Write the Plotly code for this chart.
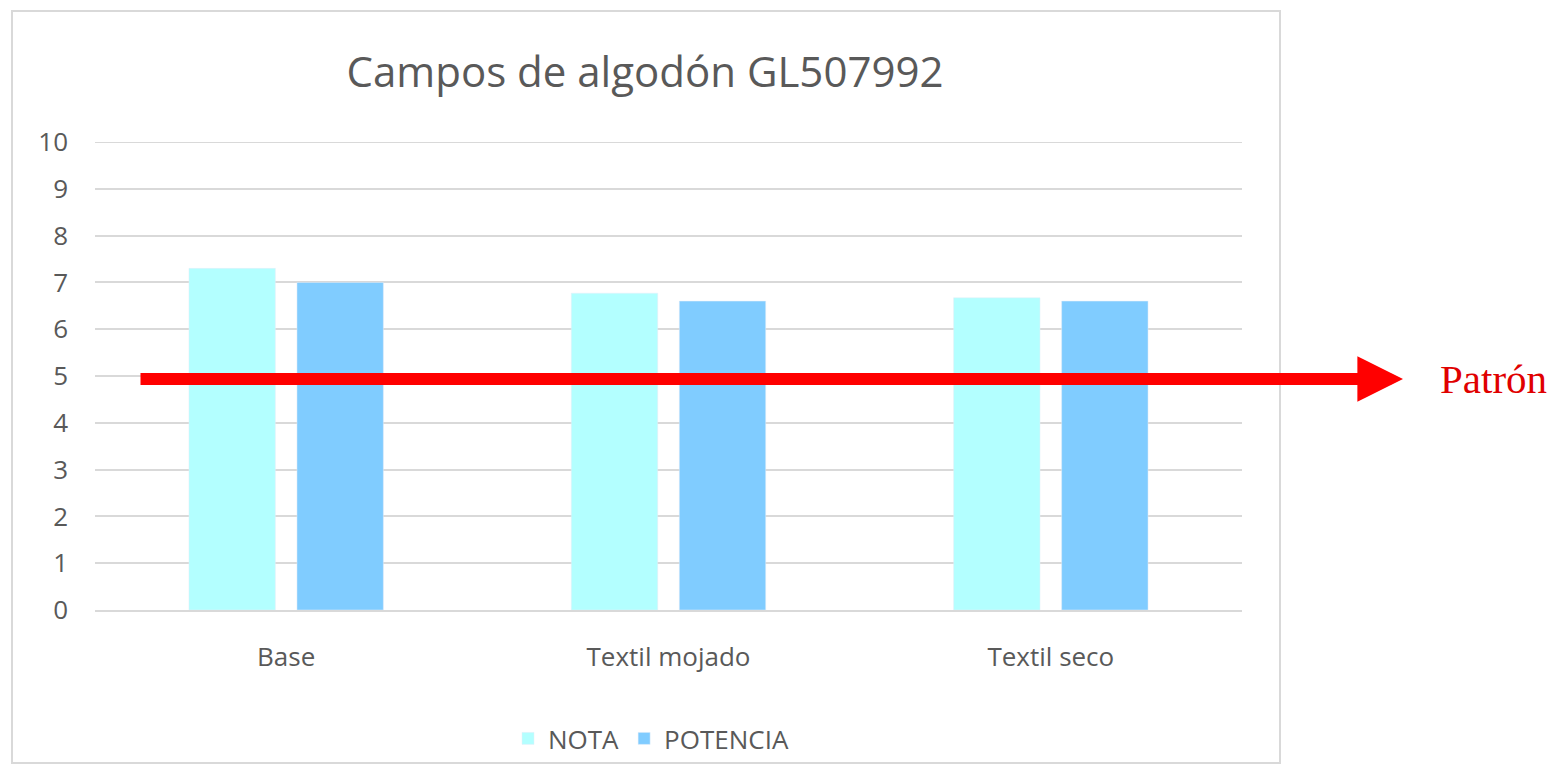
import plotly.graph_objects as go

categories = ["Base", "Textil mojado", "Textil seco"]
nota = [7.3, 6.77, 6.67]
potencia = [7.0, 6.6, 6.6]
patron = 5
y_ticks = list(range(0, 11))

# plot area in figure pixels (the page body adds an 8px offset)
L, T, PW, PH = 87, 134, 1147, 468
W, H = 1547, 756


def px_x(x):
    return (x - L) / PW


def px_y(y):
    return (T + PH - y) / PH


fig = go.Figure()
fig.add_trace(go.Bar(x=categories, y=nota, name="NOTA", marker=dict(color="#B3FFFF")))
fig.add_trace(go.Bar(x=categories, y=potencia, name="POTENCIA", marker=dict(color="#80CCFF")))

fig.update_layout(
    width=W, height=H,
    margin=dict(l=L, r=W - L - PW, t=T, b=H - T - PH, autoexpand=False),
    paper_bgcolor="white", plot_bgcolor="white",
    font=dict(family="Open Sans", color="#595959", size=26),
    title=dict(text="Campos de algodón GL507992", x=px_x(637), xref="paper",
               xanchor="center", y=1 - 64 / H, yanchor="middle",
               font=dict(size=42, color="#595959")),
    bargap=0.435, bargroupgap=0.2,
    showlegend=True,
    legend=dict(orientation="h", x=px_x(643), xanchor="center", y=px_y(H - 2), yanchor="bottom",
                font=dict(size=26, color="#595959"), itemwidth=30,
                bgcolor="rgba(0,0,0,0)"),
)
fig.update_yaxes(range=[0, 10], tickvals=y_ticks, showgrid=True, gridcolor="#D9D9D9",
                 gridwidth=2, zeroline=False, showline=False, ticklabelstandoff=26,
                 automargin=False)
fig.update_xaxes(showline=True, linecolor="#D9D9D9", linewidth=2, ticklabelstandoff=23,
                 automargin=False)

# top gridline (hidden by plotly at the range edge)
fig.add_shape(type="line", xref="x domain", yref="y", x0=0, x1=1, y0=y_ticks[-1], y1=y_ticks[-1],
              line=dict(color="#D9D9D9", width=2), layer="below")

# outer chart border
fig.add_shape(type="rect", xref="paper", yref="paper",
              x0=px_x(4), x1=px_x(1272), y0=px_y(H - 1), y1=px_y(3),
              line=dict(color="#D9D9D9", width=2), layer="below")

# reference line "Patrón"
fig.add_annotation(xref="x domain", yref="y", axref="x domain", ayref="y",
                   x=px_x(1395), y=patron, ax=px_x(131), ay=patron, yshift=-3,
                   text="", showarrow=True, arrowhead=2, arrowsize=0.76,
                   arrowwidth=12, arrowcolor="#FF0000")
fig.add_annotation(xref="paper", yref="y", x=px_x(1430), y=patron, yshift=-3,
                   xanchor="left", yanchor="middle", text="Patrón", showarrow=False,
                   font=dict(family="Liberation Serif", size=41, color="#E00000"))

fig.write_html("out.html")
